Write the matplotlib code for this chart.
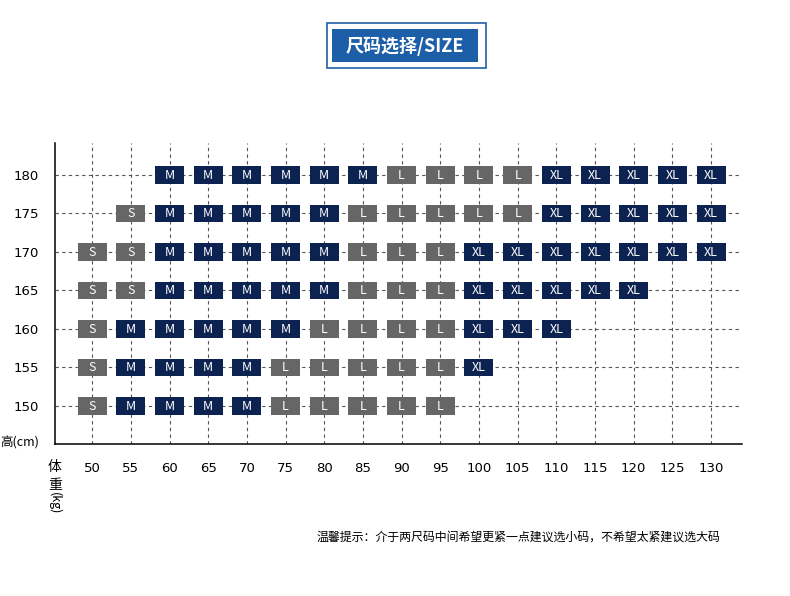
"""
Size chart (尺码选择/SIZE): height vs weight grid with S/M/L/XL boxes.
"""
import matplotlib
matplotlib.use("Agg")
import matplotlib.pyplot as plt
from matplotlib.patches import Rectangle

plt.rcParams['font.family'] = ['Noto Sans CJK SC', 'DejaVu Sans']

# data
weights = [50, 55, 60, 65, 70, 75, 80, 85, 90, 95, 100, 105, 110, 115, 120, 125, 130]
heights = [150, 155, 160, 165, 170, 175, 180]

row_180 = ["", "", "M", "M", "M", "M", "M", "M", "L", "L", "L", "L", "XL", "XL", "XL", "XL", "XL"]
row_175 = ["", "S", "M", "M", "M", "M", "M", "L", "L", "L", "L", "L", "XL", "XL", "XL", "XL", "XL"]
row_170 = ["S", "S", "M", "M", "M", "M", "M", "L", "L", "L", "XL", "XL", "XL", "XL", "XL", "XL", "XL"]
row_165 = ["S", "S", "M", "M", "M", "M", "M", "L", "L", "L", "XL", "XL", "XL", "XL", "XL", "", ""]
row_160 = ["S", "M", "M", "M", "M", "M", "L", "L", "L", "L", "XL", "XL", "XL", "", "", "", ""]
row_155 = ["S", "M", "M", "M", "M", "L", "L", "L", "L", "L", "XL", "", "", "", "", "", ""]
row_150 = ["S", "M", "M", "M", "M", "L", "L", "L", "L", "L", "", "", "", "", "", "", ""]
rows = {150: row_150, 155: row_155, 160: row_160, 165: row_165,
        170: row_170, 175: row_175, 180: row_180}

navy = "#0c2250"
grey = "#666666"
box_colors = {"S": grey, "M": navy, "L": grey, "XL": navy}

W, H = 790, 596
fig = plt.figure(figsize=(W / 100, H / 100), dpi=100)
fig.patch.set_facecolor("white")

# plot area in pixels: x 55..742, y 143..444
ax = fig.add_axes([55 / W, 1 - 444 / H, (742 - 55) / W, (444 - 143) / H])
ax.set_xlim(45.2, 134.0)
ax.set_ylim(145.05, 184.15)

for s in ["top", "right"]:
    ax.spines[s].set_visible(False)
for s in ["left", "bottom"]:
    ax.spines[s].set_color("black")
    ax.spines[s].set_linewidth(1.1)

ax.set_xticks(weights)
ax.set_xticklabels([str(w) for w in weights], fontsize=9.5, family="DejaVu Sans")
ax.set_yticks(heights)
ax.set_yticklabels([str(h) for h in heights], fontsize=9.5, family="DejaVu Sans")
ax.tick_params(axis="x", length=0, pad=13)
ax.tick_params(axis="y", length=0, pad=11.5)

ax.grid(True, color="#555555", linestyle=(0, (3, 3)), linewidth=0.8)
ax.set_axisbelow(True)

# boxes
bw, bh = 3.75, 2.3
for h in heights:
    for w, size in zip(weights, rows[h]):
        if not size:
            continue
        ax.add_patch(Rectangle((w - bw / 2, h - bh / 2), bw, bh,
                               facecolor=box_colors[size], edgecolor="none", zorder=3))
        ax.text(w, h - 0.05, size, color="white", fontsize=9,
                ha="center", va="center", zorder=4)

# axis labels
fig.text(20 / W, 1 - 443 / H, "高(cm)", fontsize=9, ha="center", va="center")
fig.text(55 / W, 1 - 467 / H, "体", fontsize=10, ha="center", va="center")
fig.text(55 / W, 1 - 485 / H, "重", fontsize=10, ha="center", va="center")
fig.text(55 / W, 1 - 503 / H, "(kg)", fontsize=9, ha="center", va="center", rotation=-90)

# title box
fig.patches.append(Rectangle((326.5 / W, 1 - 68 / H), (485.5 - 326.5) / W, (68 - 23.5) / H,
                             transform=fig.transFigure, facecolor="white",
                             edgecolor="#1f5fa6", linewidth=1.2))
fig.patches.append(Rectangle((332 / W, 1 - 62 / H), (478 - 332) / W, (62 - 29) / H,
                             transform=fig.transFigure, facecolor="#1c5ea8",
                             edgecolor="none"))
fig.text(405 / W, 1 - 46 / H, "尺码选择/SIZE", color="white", fontsize=13,
         fontweight="bold", ha="center", va="center")

# footnote
fig.text(317 / W, 1 - 537 / H,
         "温馨提示：介于两尺码中间希望更紧一点建议选小码，不希望太紧建议选大码",
         fontsize=8.6, ha="left", va="center")

fig.savefig("out.png", dpi=100)
